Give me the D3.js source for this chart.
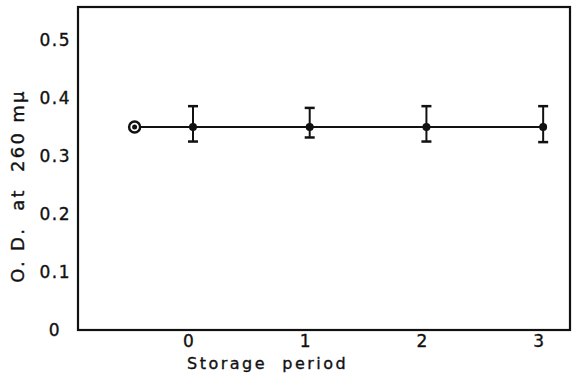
<!DOCTYPE html>
<html>
<head>
<meta charset="utf-8">
<script src="https://cdn.jsdelivr.net/npm/d3@7"></script>
<style>
  body { margin: 0; background: #fff; }
  text { font-family: "DejaVu Sans", Arial, sans-serif; fill: #111; stroke: #111; stroke-width: 0.35px; }
</style>
</head>
<body>
<svg id="chart" width="574" height="386"></svg>
<script>
// storage periods and O.D. readings
const periods = [0, 1, 2, 3]
const odMean = [0.35, 0.35, 0.35, 0.35]
const odLow = [0.325, 0.332, 0.325, 0.324]
const odHigh = [0.386, 0.383, 0.386, 0.386]
// initial reading (before storage)
const initialPeriod = [-0.5]
const initialOd = [0.35]
const yTicks = [0, 0.1, 0.2, 0.3, 0.4, 0.5]
const yTickLabels = ['0', '0.1', '0.2', '0.3', '0.4', '0.5']

const svg = d3.select('#chart')
const plotLeft = 78, plotRight = 570, plotTop = 7, plotBottom = 330

const x = d3.scaleLinear().domain([-0.985, 3.23]).range([plotLeft, plotRight])
const y = d3.scaleLinear().domain([0, 0.557]).range([plotBottom, plotTop])

// frame
svg.append('rect')
	.attr('x', plotLeft).attr('y', plotTop)
	.attr('width', plotRight - plotLeft).attr('height', plotBottom - plotTop)
	.attr('fill', 'none')
	.attr('stroke', '#111')
	.attr('stroke-width', 2.2)

// y axis labels
const yAxis = d3.axisLeft(y)
	.tickValues(yTicks)
	.tickFormat((d, i) => yTickLabels[i])
	.tickSize(0)
	.tickPadding(7)
const gy = svg.append('g').attr('transform', `translate(${plotLeft},0)`).call(yAxis)
gy.select('.domain').remove()
gy.selectAll('text')
	.style('font-family', '"DejaVu Sans", Arial, sans-serif')
	.style('font-size', '17px')
	.style('letter-spacing', '1.5px')
	.attr('fill', '#111')
gy.selectAll('.tick').filter(d => d === 0).select('text')
	.attr('x', -17)

// x axis labels
const xAxis = d3.axisBottom(x)
	.tickValues(periods)
	.tickFormat(d3.format('d'))
	.tickSize(0)
	.tickPadding(5)
const gx = svg.append('g').attr('transform', `translate(-5,${plotBottom})`).call(xAxis)
gx.select('.domain').remove()
gx.selectAll('text')
	.style('font-family', '"DejaVu Sans", Arial, sans-serif')
	.style('font-size', '17px')
	.attr('fill', '#111')

// axis titles
svg.append('text')
	.attr('x', 187).attr('y', 369)
	.style('font-size', '16px')
	.style('letter-spacing', '2.5px')
	.attr('xml:space', 'preserve')
	.text('Storage  period')

svg.append('text')
	.attr('transform', 'translate(24,186) rotate(-90)')
	.attr('text-anchor', 'middle')
	.style('font-size', '18px')
	.style('letter-spacing', '2.3px')
	.attr('xml:space', 'preserve')
	.text('O. D.  at  260 mμ')

// connecting line
const allX = initialPeriod.concat(periods)
const allY = initialOd.concat(odMean)
const line = d3.line().x(d => x(d[0])).y(d => y(d[1]))
svg.append('path')
	.datum(allX.map((v, i) => [v, allY[i]]))
	.attr('d', line)
	.attr('fill', 'none')
	.attr('stroke', '#111')
	.attr('stroke-width', 2)

// error bars
const bars = svg.selectAll('.err')
	.data(periods.map((p, i) => ({ p, lo: odLow[i], hi: odHigh[i], m: odMean[i] })))
	.enter().append('g').attr('class', 'err')
bars.append('line')
	.attr('x1', d => x(d.p)).attr('x2', d => x(d.p))
	.attr('y1', d => y(d.lo)).attr('y2', d => y(d.hi))
	.attr('stroke', '#111').attr('stroke-width', 2)
bars.append('line')
	.attr('x1', d => x(d.p) - 5).attr('x2', d => x(d.p) + 5)
	.attr('y1', d => y(d.hi)).attr('y2', d => y(d.hi))
	.attr('stroke', '#111').attr('stroke-width', 2.5)
bars.append('line')
	.attr('x1', d => x(d.p) - 5).attr('x2', d => x(d.p) + 5)
	.attr('y1', d => y(d.lo)).attr('y2', d => y(d.lo))
	.attr('stroke', '#111').attr('stroke-width', 2.5)
bars.append('circle')
	.attr('cx', d => x(d.p)).attr('cy', d => y(d.m))
	.attr('r', 4)
	.attr('fill', '#111')

// initial point: circled dot
svg.selectAll('.init')
	.data(initialPeriod.map((p, i) => ({ p, v: initialOd[i] })))
	.enter().append('circle')
	.attr('cx', d => x(d.p)).attr('cy', d => y(d.v))
	.attr('r', 5.5)
	.attr('fill', '#fff')
	.attr('stroke', '#111')
	.attr('stroke-width', 2.5)
svg.selectAll('.initDot')
	.data(initialPeriod.map((p, i) => ({ p, v: initialOd[i] })))
	.enter().append('circle')
	.attr('cx', d => x(d.p)).attr('cy', d => y(d.v))
	.attr('r', 2.5)
	.attr('fill', '#111')
</script>
</body>
</html>
